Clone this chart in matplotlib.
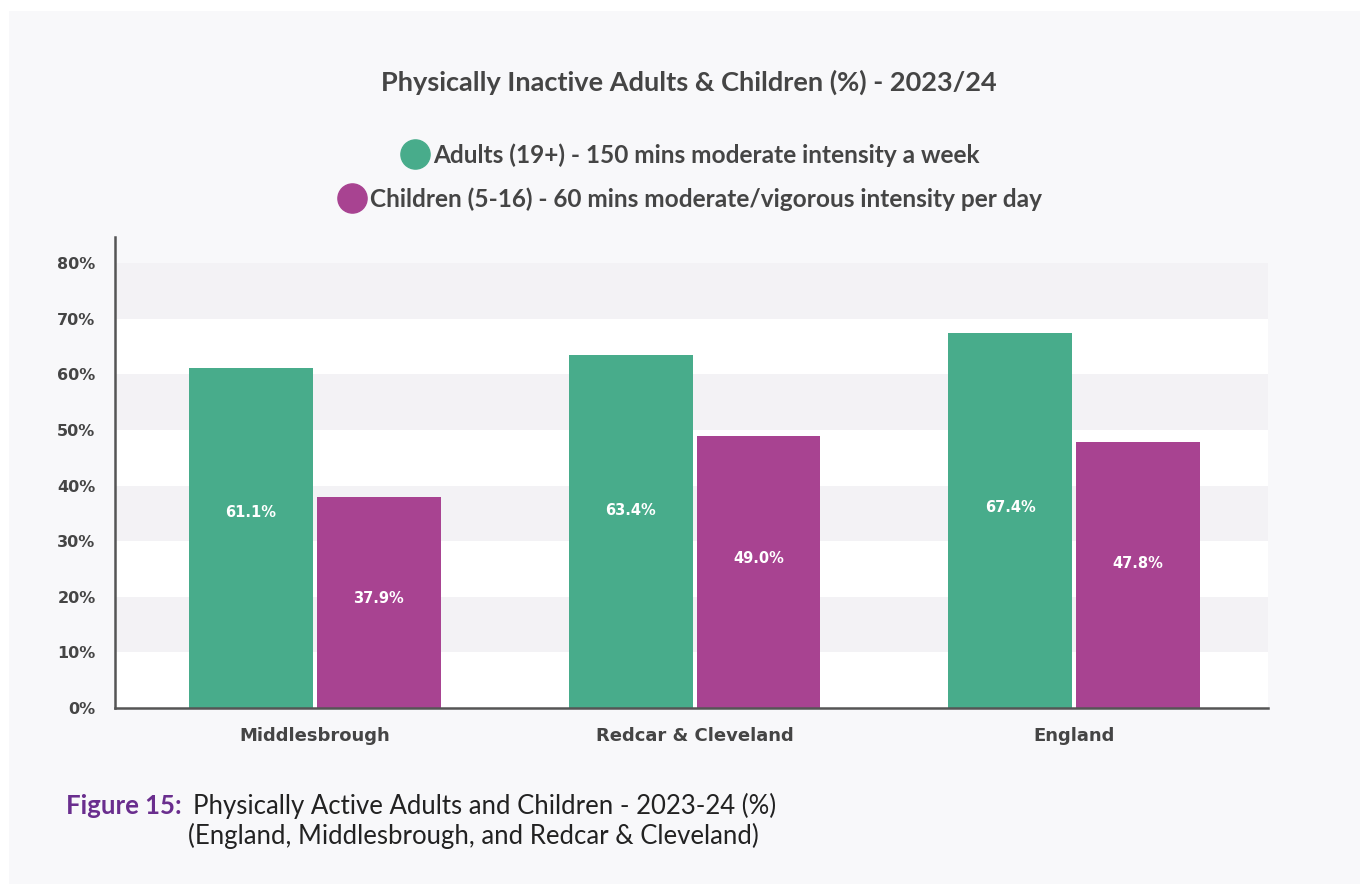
import numpy as np
import matplotlib.pyplot as plt
from matplotlib.patches import Rectangle
from matplotlib.lines import Line2D

# data
areas = ["Middlesbrough", "Redcar & Cleveland", "England"]
adults = [61.1, 63.4, 67.4]
children = [37.9, 49.0, 47.8]
yticks = [0, 10, 20, 30, 40, 50, 60, 70, 80]

green = "#48ac8b"
purple = "#a84391"
panel = "#f8f8fa"
band = "#f3f2f5"
txt = "#454545"

W, H = 1360, 884
fig = plt.figure(figsize=(W / 100, H / 100), dpi=100)
fig.patch.set_facecolor("white")
fig.patches.append(Rectangle((9 / W, 0), 1 - 9 / W, 1 - 11 / H, transform=fig.transFigure,
                             facecolor=panel, edgecolor="none", zorder=-10))

# axes in pixel coords
x0, x1, y_top, y_bot = 115, 1268, 237, 708
ax = fig.add_axes([x0 / W, 1 - y_bot / H, (x1 - x0) / W, (y_bot - y_top) / H])
ax.set_facecolor(panel)
ax.set_ylim(0, 84.7)
ax.set_xlim(-0.526, 2.51)

# alternating bands
for i, lo in enumerate(yticks[:-1]):
    ax.axhspan(lo, lo + 10, color="white" if i % 2 == 0 else band, zorder=0, lw=0)

x = np.arange(len(areas))
bw = 0.326
off = bw / 2 + 0.0053
ax.bar(x - off, adults, bw, color=green, zorder=2)
ax.bar(x + off, children, bw, color=purple, zorder=2)

# value labels sit a bit above the middle of each bar
for xi, v in zip(x - off, adults):
    ax.text(xi, v * 0.15 + 26, f"{v:.1f}%", ha="center", va="center", color="white",
            fontsize=10.5, fontweight="bold", family="DejaVu Sans", zorder=3)
for xi, v in zip(x + off, children):
    ax.text(xi, v * 0.65 - 5, f"{v:.1f}%", ha="center", va="center", color="white",
            fontsize=10.5, fontweight="bold", family="DejaVu Sans", zorder=3)

ax.set_yticks(yticks)
ax.set_yticklabels([f"{t}%" for t in yticks], fontsize=11.5, fontweight="bold",
                   color=txt, family="DejaVu Sans")
ax.set_xticks(x)
ax.set_xticklabels(areas, fontsize=13, fontweight="bold", color=txt, family="DejaVu Sans")
ax.tick_params(axis="both", length=0)
ax.tick_params(axis="y", pad=14)
ax.tick_params(axis="x", pad=14)
for s in ["top", "right"]:
    ax.spines[s].set_visible(False)
for s in ["left", "bottom"]:
    ax.spines[s].set_color("#555555")
    ax.spines[s].set_linewidth(1.8)

# title
fig.text(689 / W, 1 - 82 / H, "Physically Inactive Adults & Children (%) - 2023/24",
         ha="center", va="center", fontsize=19.5, fontweight="bold", color=txt, family="Lato")

# legend lines, each centred
labels = ["Adults (19+) - 150 mins moderate intensity a week",
          "Children (5-16) - 60 mins moderate/vigorous intensity per day"]
for lab, col, ypx in zip(labels, [green, purple], [155, 199]):
    h = Line2D([], [], marker="o", ls="", markersize=21, color=col)
    leg = fig.legend(handles=[h], labels=[lab], loc="center", bbox_to_anchor=(690 / W, 1 - ypx / H),
                     frameon=False, handletextpad=0.15, handlelength=1.2,
                     prop={"family": "Lato", "weight": "bold", "size": 17.6})
    for t in leg.get_texts():
        t.set_color(txt)

# caption
fig.text(66 / W, 1 - 806 / H, "Figure 15:", ha="left", va="center", fontsize=18.5,
         fontweight="bold", color="#6a2e8e", family="Lato")
fig.text(193 / W, 1 - 806 / H, "Physically Active Adults and Children - 2023-24 (%)",
         ha="left", va="center", fontsize=18.5, color="#222222", family="Lato")
fig.text(188 / W, 1 - 836 / H, "(England, Middlesbrough, and Redcar & Cleveland)",
         ha="left", va="center", fontsize=18.5, color="#222222", family="Lato")

fig.savefig("out.png", dpi=100, facecolor=fig.get_facecolor())
